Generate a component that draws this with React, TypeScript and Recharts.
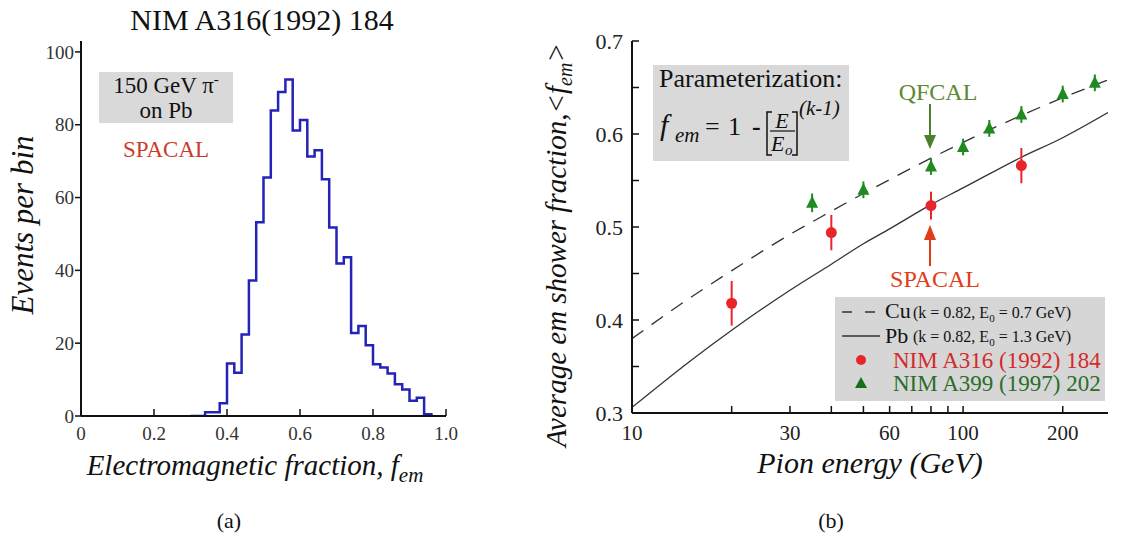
import React from "react";
import {
  ComposedChart,
  LineChart,
  Line,
  Scatter,
  XAxis,
  YAxis,
  ErrorBar,
} from "recharts";

const SERIF = "'Liberation Serif', 'DejaVu Serif', 'Times New Roman', serif";

// (a) 150 GeV pi- on Pb (SPACAL): lower bin edge and events per bin
const binLowEdges = [
  0.3, 0.34, 0.36, 0.38, 0.4, 0.42, 0.44, 0.46, 0.48, 0.5, 0.52, 0.54, 0.56,
  0.58, 0.6, 0.62, 0.64, 0.66, 0.68, 0.7, 0.72, 0.74, 0.76, 0.78, 0.8, 0.82,
  0.84, 0.86, 0.88, 0.9, 0.92, 0.94, 0.96,
];
const eventsPerBin = [
  0, 1, 1, 3.5, 14.4, 11.9, 22.4, 37.2, 53.2, 65.5, 83.9, 89, 92.4, 78.4, 81.3,
  71.3, 73, 65, 51.8, 41.9, 43.6, 22.8, 24.7, 19.4, 14.2, 13.3, 11.7, 8.7, 7.3,
  4.2, 5, 0.5, 0,
];
const fracTicks = [0, 0.2, 0.4, 0.6, 0.8, 1.0];
const eventTicks = [0, 20, 40, 60, 80, 100];

// (b) average em fraction vs pion energy
const curveEnergies = [10, 15, 20, 30, 40, 50, 60, 80, 100, 150, 200, 274];
const cuFraction = [0.38, 0.424, 0.453, 0.492, 0.517, 0.536, 0.551, 0.574, 0.591, 0.62, 0.639, 0.658];
const pbFraction = [0.306, 0.356, 0.389, 0.432, 0.46, 0.482, 0.498, 0.524, 0.542, 0.575, 0.596, 0.623];

const spacalEnergy = [20, 40, 80, 150];
const spacalFraction = [0.418, 0.494, 0.523, 0.566];
const spacalError = [0.024, 0.019, 0.015, 0.019];

const qfcalEnergy = [35, 50, 80, 100, 120, 150, 200, 250];
const qfcalFraction = [0.526, 0.54, 0.565, 0.586, 0.606, 0.621, 0.643, 0.655];
const qfcalError = [0.01, 0.009, 0.009, 0.009, 0.009, 0.009, 0.009, 0.009];

const energyTicks = [10, 20, 30, 40, 50, 60, 70, 80, 90, 100, 200];
const energyLabels = [10, 30, 60, 100, 200];
const emFracTicks = [0.3, 0.35, 0.4, 0.45, 0.5, 0.55, 0.6, 0.65, 0.7];

const AXIS = { stroke: "#111", strokeWidth: 2 };
const TICKLINE = { stroke: "#111", strokeWidth: 1.5 };
const RED = "#e8262a";
const GREEN = "#1f8a1f";
const FONT = { fontFamily: SERIF };
const ITALIC = { fontFamily: SERIF, fontStyle: "italic" as const };

function Histogram() {
  const data = binLowEdges.map((x, i) => ({ x, n: eventsPerBin[i] }));
  const tick = { fontSize: 19, fill: "#333", style: FONT };
  return (
    <LineChart
      width={470}
      height={536}
      data={data}
      margin={{ top: 41, right: 24, bottom: 90, left: 21 }}
    >
      <XAxis
        dataKey="x"
        type="number"
        domain={[0, 1]}
        allowDataOverflow
        ticks={fracTicks}
        interval={0}
        tickFormatter={(v: number) => (v === 0 ? "0" : v.toFixed(1))}
        height={30}
        tickSize={-7}
        tickMargin={18}
        axisLine={AXIS}
        tickLine={TICKLINE}
        tick={tick}
      />
      <XAxis
        xAxisId="top"
        orientation="top"
        type="number"
        domain={[0, 1]}
        allowDataOverflow
        height={0}
        tick={false}
        tickLine={false}
        axisLine={AXIS}
      />
      <YAxis
        type="number"
        domain={[0, 103]}
        allowDataOverflow
        ticks={eventTicks}
        interval={0}
        width={60}
        tickSize={6}
        tickMargin={1}
        axisLine={AXIS}
        tickLine={TICKLINE}
        tick={tick}
      />
      <YAxis
        yAxisId="right"
        orientation="right"
        type="number"
        domain={[0, 103]}
        allowDataOverflow
        width={0}
        tick={false}
        tickLine={false}
        axisLine={AXIS}
      />
      <Line
        type="stepAfter"
        dataKey="n"
        stroke="#2323b8"
        strokeWidth={2.5}
        dot={false}
        isAnimationActive={false}
      />
    </LineChart>
  );
}

function Circle(props: any) {
  const { cx, cy } = props;
  return <circle cx={cx} cy={cy} r={5.5} fill={RED} />;
}

function Triangle(props: any) {
  const { cx, cy } = props;
  return (
    <polygon
      points={`${cx},${cy - 7} ${cx - 6},${cy + 5} ${cx + 6},${cy + 5}`}
      fill={GREEN}
    />
  );
}

function FractionChart() {
  const cu = curveEnergies.map((E, i) => ({ E, f: cuFraction[i] }));
  const pb = curveEnergies.map((E, i) => ({ E, f: pbFraction[i] }));
  const spacal = spacalEnergy.map((E, i) => ({ E, f: spacalFraction[i], err: spacalError[i] }));
  const qfcal = qfcalEnergy.map((E, i) => ({ E, f: qfcalFraction[i], err: qfcalError[i] }));
  const eTick = { fontSize: 21, fill: "#222", style: FONT };
  return (
    <ComposedChart
      width={654}
      height={536}
      margin={{ top: 41, right: 16, bottom: 93, left: 102 }}
    >
      <XAxis
        dataKey="E"
        type="number"
        scale="log"
        domain={[10, 274]}
        allowDataOverflow
        ticks={energyTicks}
        interval={0}
        tickFormatter={(v: number) => (energyLabels.includes(v) ? String(v) : "")}
        height={30}
        tickSize={-7}
        tickMargin={19}
        axisLine={AXIS}
        tickLine={TICKLINE}
        tick={eTick}
      />
      <XAxis
        xAxisId="top"
        orientation="top"
        dataKey="E"
        type="number"
        scale="log"
        domain={[10, 274]}
        allowDataOverflow
        ticks={energyTicks}
        interval={0}
        tickFormatter={() => ""}
        height={0}
        tickSize={-7}
        axisLine={AXIS}
        tickLine={TICKLINE}
      />
      <YAxis
        dataKey="f"
        type="number"
        domain={[0.3, 0.7]}
        allowDataOverflow
        ticks={emFracTicks}
        interval={0}
        tickFormatter={(v: number) =>
          Math.round(v * 100) % 10 === 0 ? v.toFixed(1) : ""
        }
        width={60}
        tickSize={-7}
        tickMargin={16}
        axisLine={AXIS}
        tickLine={TICKLINE}
        tick={{ fontSize: 22, fill: "#222", style: FONT }}
      />
      <YAxis
        yAxisId="right"
        orientation="right"
        dataKey="f"
        type="number"
        domain={[0.3, 0.7]}
        allowDataOverflow
        ticks={emFracTicks}
        interval={0}
        tickFormatter={() => ""}
        width={0}
        tickSize={-7}
        axisLine={AXIS}
        tickLine={TICKLINE}
      />
      <Line
        data={cu}
        dataKey="f"
        type="monotone"
        stroke="#333"
        strokeWidth={1.3}
        strokeDasharray="14 10"
        dot={false}
        isAnimationActive={false}
      />
      <Line
        data={pb}
        dataKey="f"
        type="monotone"
        stroke="#333"
        strokeWidth={1.3}
        dot={false}
        isAnimationActive={false}
      />
      <Scatter data={spacal} dataKey="f" shape={Circle} isAnimationActive={false}>
        <ErrorBar dataKey="err" direction="y" width={0} stroke={RED} strokeWidth={2} />
      </Scatter>
      <Scatter data={qfcal} dataKey="f" shape={Triangle} isAnimationActive={false}>
        <ErrorBar dataKey="err" direction="y" width={0} stroke={GREEN} strokeWidth={2} />
      </Scatter>
    </ComposedChart>
  );
}

function Annotations() {
  return (
    <svg
      width={1124}
      height={536}
      style={{ position: "absolute", left: 0, top: 0, pointerEvents: "none", fontFamily: SERIF }}
    >
      {/* panel (a) */}
      <text x={262} y={30} fontSize={30} textAnchor="middle" fill="#111" style={FONT}>
        NIM A316(1992) 184
      </text>
      <text
        transform="translate(33,225) rotate(-90)"
        fontSize={31}
        textAnchor="middle"
        fill="#111"
        style={ITALIC}
      >
        Events per bin
      </text>
      <text x={255} y={475} fontSize={29} textAnchor="middle" fill="#111" style={ITALIC}>
        Electromagnetic fraction, f
        <tspan fontSize={21} dy={7}>em</tspan>
      </text>
      <text x={229} y={528} fontSize={22} textAnchor="middle" fill="#111" style={FONT}>
        (a)
      </text>
      <rect x={99} y={72} width={134} height={51} fill="#d9d9d9" />
      <text x={166} y={93} fontSize={23} textAnchor="middle" fill="#111" style={FONT}>
        150 GeV π<tspan fontSize={15} dy={-9}>-</tspan>
      </text>
      <text x={166} y={118} fontSize={23} textAnchor="middle" fill="#111" style={FONT}>
        on Pb
      </text>
      <text x={166} y={157} fontSize={23} textAnchor="middle" fill="#cc3b2a" style={FONT}>
        SPACAL
      </text>

      {/* panel (b) */}
      <text
        transform="translate(566,245) rotate(-90)"
        fontSize={29}
        textAnchor="middle"
        fill="#111"
        style={ITALIC}
      >
        Average em shower fraction,{"<"}f
        <tspan fontSize={20} dy={6}>em</tspan>
        <tspan dy={-6}>{">"}</tspan>
      </text>
      <text x={870} y={473} fontSize={30} textAnchor="middle" fill="#111" style={ITALIC}>
        Pion energy (GeV)
      </text>
      <text x={831} y={528} fontSize={22} textAnchor="middle" fill="#111" style={FONT}>
        (b)
      </text>

      <rect x={653} y={65} width={196} height={96} fill="#d9d9d9" />
      <text x={659} y={87} fontSize={26} fill="#111" style={FONT}>
        Parameterization:
      </text>
      <text x={660} y={135} fontSize={30} fill="#111" style={ITALIC}>f</text>
      <text x={675} y={142} fontSize={21} fill="#111" style={ITALIC}>em</text>
      <text x={705} y={135} fontSize={26} fill="#111" style={FONT}>=</text>
      <text x={728} y={135} fontSize={26} fill="#111" style={FONT}>1</text>
      <text x={752} y={135} fontSize={26} fontWeight="bold" fill="#111" style={FONT}>-</text>
      <path d="M772,112 h-5 v43 h5 M792,112 h5 v43 h-5" stroke="#111" strokeWidth={1.5} fill="none" />
      <text x={782} y={128} fontSize={22} textAnchor="middle" fill="#111" style={ITALIC}>E</text>
      <line x1={770} x2={795} y1={131} y2={131} stroke="#111" strokeWidth={1.2} />
      <text x={771} y={151} fontSize={22} fill="#111" style={ITALIC}>E</text>
      <text x={785} y={155} fontSize={15} fill="#111" style={ITALIC}>o</text>
      <text x={799} y={115} fontSize={21} fill="#111" style={ITALIC}>(k-1)</text>

      <text x={938} y={100} fontSize={24} textAnchor="middle" fill="#5b8a33" style={FONT}>
        QFCAL
      </text>
      <line x1={930} x2={930} y1={104} y2={138} stroke="#4e7f2c" strokeWidth={2} />
      <polygon points="924,135 936,135 930,149" fill="#4e7f2c" />

      <text x={935} y={287} fontSize={24} textAnchor="middle" fill="#e03c1c" style={FONT}>
        SPACAL
      </text>
      <line x1={930} x2={930} y1={266} y2={238} stroke="#e03c1c" strokeWidth={2} />
      <polygon points="924,240 936,240 930,225" fill="#e03c1c" />

      <rect x={835} y={297} width={270} height={104} fill="#d6d6d6" />
      <line x1={842} x2={880} y1={312} y2={312} stroke="#333" strokeWidth={1.5} strokeDasharray="10 13" />
      <text x={885} y={318} fontSize={22} fill="#111" style={FONT}>Cu</text>
      <text x={913} y={318} fontSize={16} fill="#111" style={FONT}>
        (k = 0.82, E<tspan fontSize={11} dy={4}>0</tspan>
        <tspan dy={-4}> = 0.7 GeV)</tspan>
      </text>
      <line x1={842} x2={880} y1={336} y2={336} stroke="#333" strokeWidth={1.5} />
      <text x={885} y={343} fontSize={22} fill="#111" style={FONT}>Pb</text>
      <text x={913} y={342} fontSize={16} fill="#111" style={FONT}>
        (k = 0.82, E<tspan fontSize={11} dy={4}>0</tspan>
        <tspan dy={-4}> = 1.3 GeV)</tspan>
      </text>
      <circle cx={861} cy={360} r={5} fill={RED} />
      <text x={893} y={368} fontSize={23} fill="#d42a2a" style={FONT}>
        NIM A316 (1992) 184
      </text>
      <polygon points="861,377 855,388 867,388" fill="#1a6e1a" />
      <text x={893} y={391} fontSize={23} fill="#2a6e2a" style={FONT}>
        NIM A399 (1997) 202
      </text>
    </svg>
  );
}

export default function App() {
  return (
    <div
      style={{
        position: "fixed",
        left: 0,
        top: 0,
        width: 1124,
        height: 536,
        background: "#fff",
        fontFamily: SERIF,
      }}
    >
      <div style={{ position: "absolute", left: 0, top: 0 }}>
        <Histogram />
      </div>
      <div style={{ position: "absolute", left: 470, top: 0 }}>
        <FractionChart />
      </div>
      <Annotations />
    </div>
  );
}
